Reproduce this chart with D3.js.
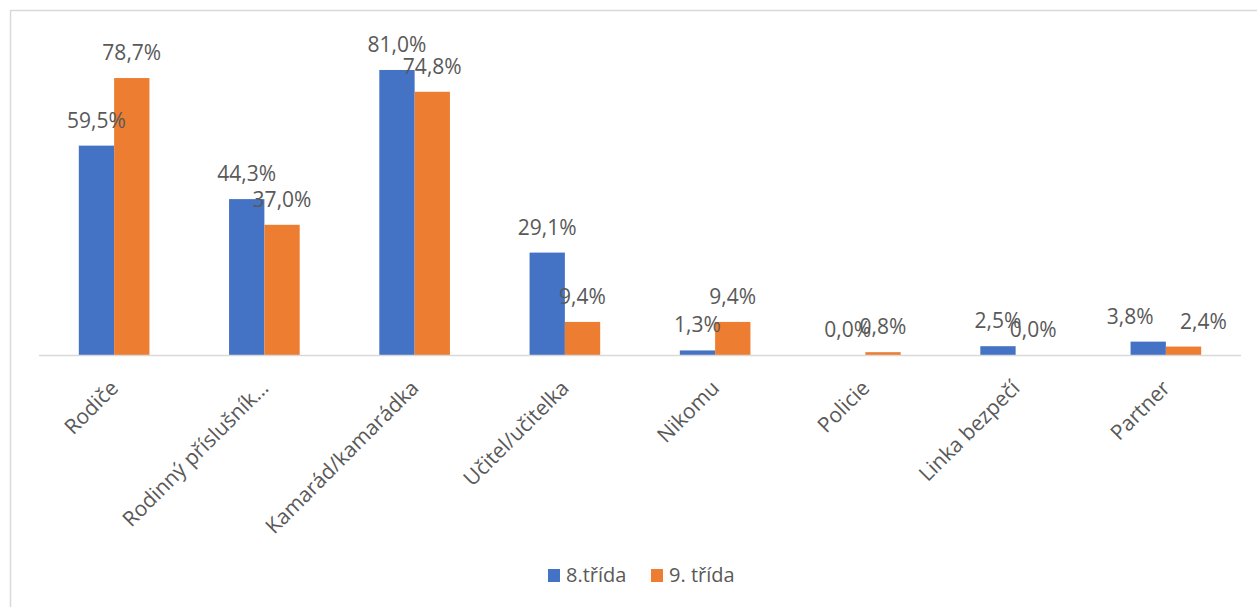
<!DOCTYPE html>
<html lang="cs">
<head>
<meta charset="utf-8">
<style>
  body { margin: 0; background: #fff; }
  text { font-family: "Open Sans", sans-serif; fill: #595959; }
</style>
</head>
<body>
<script src="https://d3js.org/d3.v7.min.js"></script>
<script>
var categories = ["Rodiče", "Rodinný příslušník…", "Kamarád/kamarádka", "Učitel/učitelka", "Nikomu", "Policie", "Linka bezpečí", "Partner"];
var seriesNames = ["8.třída", "9. třída"];
var trida8 = [59.5, 44.3, 81.0, 29.1, 1.3, 0.0, 2.5, 3.8];
var trida9 = [78.7, 37.0, 74.8, 9.4, 9.4, 0.8, 0.0, 2.4];
var colors = ["#4472C4", "#ED7D31"];

// labels that were dragged apart by hand in the original
var labelNudge = { "Partner": [-18, 20] };

var width = 1257, height = 607;
var svg = d3.select("body").append("svg")
  .attr("width", width)
  .attr("height", height);

// chart frame
svg.append("rect")
  .attr("x", 10.5).attr("y", 10.5)
  .attr("width", 1270).attr("height", 620)
  .attr("fill", "none")
  .attr("stroke", "#d9d9d9")
  .attr("stroke-width", 1.5);

var x = d3.scaleBand()
  .domain(categories)
  .range([39, 1241])
  .paddingInner(0.53)
  .paddingOuter(0.265);

var xs = d3.scaleBand()
  .domain(seriesNames)
  .range([0, x.bandwidth()]);

var y = d3.scaleLinear()
  .domain([0, 90])
  .range([355, 38.3]);

var data = categories.map(function (c, i) {
  return { cat: c, vals: [trida8[i], trida9[i]] };
});

var groups = svg.append("g").selectAll("g")
  .data(data)
  .enter().append("g")
  .attr("transform", function (d) { return "translate(" + x(d.cat) + ",0)"; });

groups.selectAll("rect")
  .data(function (d) { return d.vals.map(function (v, j) { return { v: v, s: seriesNames[j], j: j }; }); })
  .enter().append("rect")
  .attr("x", function (d) { return xs(d.s); })
  .attr("width", xs.bandwidth())
  .attr("y", function (d) { return y(d.v); })
  .attr("height", function (d) { return y(0) - y(d.v); })
  .attr("fill", function (d) { return colors[d.j]; });

groups.selectAll("text")
  .data(function (d) {
    return d.vals.map(function (v, j) {
      var n = labelNudge[d.cat] ? labelNudge[d.cat][j] : 0;
      return { v: v, s: seriesNames[j], n: n };
    });
  })
  .enter().append("text")
  .attr("x", function (d) { return xs(d.s) + xs.bandwidth() / 2 + d.n; })
  .attr("y", function (d) { return y(d.v) - 18; })
  .attr("text-anchor", "middle")
  .style("font-size", "21px")
  .text(function (d) { return d.v.toFixed(1).replace(".", ",") + "%"; });

// baseline
svg.append("line")
  .attr("x1", 39).attr("x2", 1241)
  .attr("y1", y(0) + 0.5).attr("y2", y(0) + 0.5)
  .attr("stroke", "#d9d9d9")
  .attr("stroke-width", 1.5);

// category labels
svg.append("g").selectAll("text")
  .data(categories)
  .enter().append("text")
  .attr("transform", function (d) {
    return "translate(" + (x(d) + x.bandwidth() / 2 - 5) + "," + 379 + ") rotate(-45)";
  })
  .attr("text-anchor", "end")
  .attr("dy", "0.7em")
  .style("font-size", "21px")
  .text(function (d) { return d; });

// legend
var legend = svg.append("g").attr("transform", "translate(548,569)");
var lx = [0, 103];
seriesNames.forEach(function (s, i) {
  legend.append("rect")
    .attr("x", lx[i]).attr("y", 0)
    .attr("width", 12).attr("height", 13)
    .attr("fill", colors[i]);
  legend.append("text")
    .attr("x", lx[i] + 18).attr("y", 13)
    .style("font-size", "20px")
    .text(s);
});
</script>
</body>
</html>
